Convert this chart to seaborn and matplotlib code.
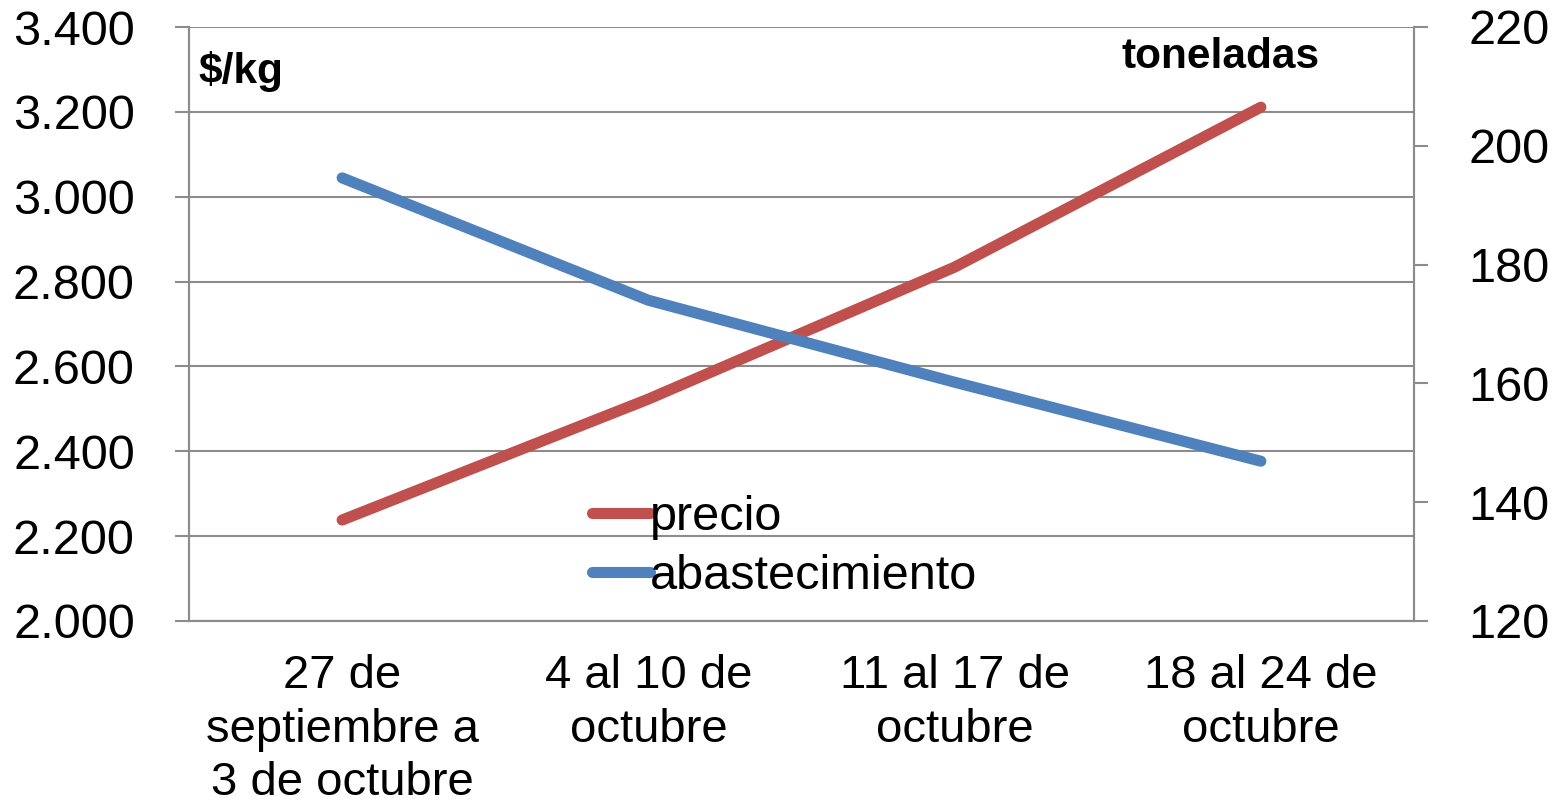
import matplotlib
matplotlib.use("Agg")
import matplotlib.pyplot as plt
import seaborn as sns
import pandas as pd
from matplotlib import font_manager as fm

categorias = ["27 de\nseptiembre a\n3 de octubre", "4 al 10 de\noctubre", "11 al 17 de\noctubre", "18 al 24 de\noctubre"]
precio = [2238, 2523, 2834, 3211]
abastecimiento = [194.6, 174.0, 160.2, 146.9]
ticks_izq = [2000, 2200, 2400, 2600, 2800, 3000, 3200, 3400]
ticks_der = [120, 140, 160, 180, 200, 220]

sns.set_theme(style="white")
plt.rcParams['font.family'] = ['Liberation Sans', 'DejaVu Sans']
plt.rcParams['text.color'] = 'black'
plt.rcParams['xtick.labelcolor'] = 'black'
plt.rcParams['ytick.labelcolor'] = 'black'
names = {f.name for f in fm.fontManager.ttflist}
narrow = 'Liberation Sans Narrow' if 'Liberation Sans Narrow' in names else 'Liberation Sans'

RED = "#C0504D"
BLUE = "#4F81BD"
GRID = "#8C8C8C"

df = pd.DataFrame({"x": range(len(categorias)), "precio": precio, "abastecimiento": abastecimiento})

fig = plt.figure(figsize=(15.58, 8.08), dpi=100)
ax = fig.add_axes([189/1558, 1-621/808, (1414-189)/1558, (621-27)/808])
ax2 = ax.twinx()

sns.lineplot(data=df, x="x", y="precio", ax=ax, color=RED, linewidth=8,
             solid_capstyle="round", label="precio", legend=False)
sns.lineplot(data=df, x="x", y="abastecimiento", ax=ax2, color=BLUE, linewidth=8,
             solid_capstyle="round", label="abastecimiento", legend=False)

ax.set_xlim(-0.5, 3.5)
ax.set_ylim(2000, 3400)
ax2.set_ylim(120, 220)
ax.set_yticks(ticks_izq)
ax.set_yticklabels([f"{v:,}".replace(",", ".") for v in ticks_izq], fontsize=35, color='black')
ax2.set_yticks(ticks_der)
ax2.set_yticklabels([str(v) for v in ticks_der], fontsize=35, color='black')
ax.set_xticks(range(len(categorias)))
ax.set_xticklabels(categorias, fontsize=34, family=[narrow, 'DejaVu Sans'], linespacing=1.27, color='black')
ax.set_xticks([i - 0.5 for i in range(len(categorias) + 1)], minor=True)
ax.tick_params(axis='x', which='major', length=0, pad=24)
ax.tick_params(axis='x', which='minor', length=10, width=1.5, color=GRID, direction='out')
ax.tick_params(axis='y', length=10, width=1.5, color=GRID, direction='out', pad=29)
ax2.tick_params(axis='y', length=10, width=1.5, color=GRID, direction='out', pad=29)
ax.set_xlabel("")
ax.set_ylabel("")
ax2.set_ylabel("")

ax.yaxis.grid(True, color=GRID, linewidth=1.5)
ax.set_axisbelow(True)
for a in (ax, ax2):
    a.spines['top'].set_visible(False)
    for s in ('left', 'right', 'bottom'):
        a.spines[s].set_color(GRID)
        a.spines[s].set_linewidth(1.5)

ax.text(198/1558, 1-72/808, "$/kg", transform=fig.transFigure, fontsize=30.5,
        fontweight='bold', va='center', ha='left', color='black')
ax.text(1221/1558, 1-57/808, "toneladas", transform=fig.transFigure, fontsize=30.5,
        fontweight='bold', va='center', ha='center', color='black')

h1, l1 = ax.get_legend_handles_labels()
h2, l2 = ax2.get_legend_handles_labels()
leg = ax2.legend(h1 + h2, l1 + l2, loc='center left', bbox_to_anchor=(592/1558, 1-547/808),
                 bbox_transform=fig.transFigure, frameon=False, fontsize=35,
                 handlelength=1.2, handletextpad=0.0, labelspacing=0.3, borderpad=0, borderaxespad=0)
for t in leg.get_texts():
    t.set_color('black')

fig.savefig("out.png", dpi=100)
